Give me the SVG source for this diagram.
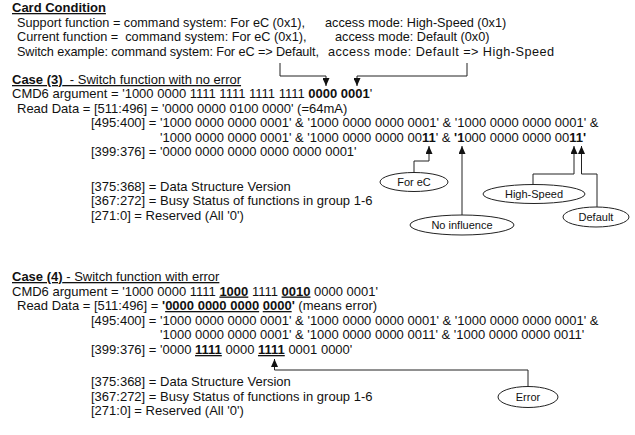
<svg xmlns="http://www.w3.org/2000/svg" width="635" height="435" viewBox="0 0 635 435">
<defs>
<marker id="ah" markerUnits="userSpaceOnUse" markerWidth="8" markerHeight="7" refX="8" refY="3.5" orient="auto" viewBox="0 0 8 7">
<path d="M0,0 L8,3.5 L0,7 Z" fill="#111"/>
</marker>
<style>
text{font-family:"Liberation Sans",Arial,sans-serif;font-size:13px;fill:#111}
.c{font-size:12.7px}
.b{font-weight:bold}
.u{text-decoration:underline}
.lbl{font-size:11px;text-anchor:middle}
.conn path{fill:none;stroke:#222;stroke-width:1}
.node ellipse{fill:#fff;stroke:#222;stroke-width:1}
</style>
</defs>
<rect width="635" height="435" fill="#fff"/>

<g id="card-condition">
<text x="12" y="12" class="b u">Card Condition</text>
<text x="17" y="26.5" class="c">Support function = command system: For eC (0x1),</text>
<text x="325" y="26.5" class="c">access mode: High-Speed (0x1)</text>
<text x="17" y="41" class="c" xml:space="preserve">Current function =  command system: For eC (0x1),</text>
<text x="335" y="41" class="c">access mode: Default (0x0)</text>
<text x="17" y="55.5" class="c" textLength="302" lengthAdjust="spacing">Switch example: command system: For eC =&gt; Default,</text>
<text x="328" y="55.5" class="c" textLength="226" lengthAdjust="spacing">access mode: Default =&gt; High-Speed</text>
</g>

<g id="case3">
<text x="12" y="84" class="u" xml:space="preserve"><tspan class="b">Case (3)</tspan>  - Switch function with no error</text>
<text x="12" y="98">CMD6 argument = '1000 0000 1111 1111 1111 1111 <tspan class="b">0000 0001</tspan>'</text>
<text x="17" y="112.5">Read Data = [511:496] = '0000 0000 0100 0000' (=64mA)</text>
<text x="91" y="127">[495:400] = '1000 0000 0000 0001' &amp; '1000 0000 0000 0001' &amp; '1000 0000 0000 0001' &amp;</text>
<text x="160" y="141.5">'1000 0000 0000 0001' &amp; '1000 0000 0000 00<tspan class="b">11</tspan>' &amp; <tspan class="b">'1</tspan>000 0000 0000 00<tspan class="b">11'</tspan></text>
<text x="91" y="156">[399:376] = '0000 0000 0000 0000 0000 0001'</text>
<text x="91" y="190.5">[375:368] = Data Structure Version</text>
<text x="91" y="205">[367:272] = Busy Status of functions in group 1-6</text>
<text x="91" y="219.5">[271:0] = Reserved (All '0')</text>
</g>

<g id="case4">
<text x="12" y="281" class="u"><tspan class="b">Case (4)</tspan> - Switch function with error</text>
<text x="12" y="295.5">CMD6 argument = '1000 0000 1111 <tspan class="b u">1000</tspan> 1111 <tspan class="b u">0010</tspan> 0000 0001'</text>
<text x="17" y="310">Read Data = [511:496] = <tspan class="b">'<tspan class="u">0000 0000 0000</tspan> <tspan class="u">0000</tspan>'</tspan> (means error)</text>
<text x="91" y="324.5">[495:400] = '1000 0000 0000 0001' &amp; '1000 0000 0000 0001' &amp; '1000 0000 0000 0001' &amp;</text>
<text x="160" y="339">'1000 0000 0000 0001' &amp; '1000 0000 0000 0011' &amp; '1000 0000 0000 0011'</text>
<text x="91" y="354">[399:376] = '0000 <tspan class="b u">1111</tspan> 0000 <tspan class="b u">1111</tspan> 0001 0000'</text>
<text x="91" y="386">[375:368] = Data Structure Version</text>
<text x="91" y="400.5">[367:272] = Busy Status of functions in group 1-6</text>
<text x="91" y="415">[271:0] = Reserved (All '0')</text>
</g>

<g id="connectors" class="conn">
<path d="M280,63 V76 H326 V86" marker-end="url(#ah)"/>
<path d="M467,63 V76 H357 V86" marker-end="url(#ah)"/>
<path d="M414,173 V161 H429 V146" marker-end="url(#ah)"/>
<path d="M462,215 V146" marker-end="url(#ah)"/>
<path d="M533,185 V174 H574 V146" marker-end="url(#ah)"/>
<path d="M597,207 V174 H581.5 V146" marker-end="url(#ah)"/>
<path d="M528,387 V370 H274.5 V359" marker-end="url(#ah)"/>
</g>

<g id="node-for-ec" class="node"><ellipse cx="414" cy="182" rx="34" ry="9.5"/><text x="414" y="186" class="lbl">For eC</text></g>
<g id="node-no-influence" class="node"><ellipse cx="462" cy="225" rx="52" ry="10"/><text x="462" y="229" class="lbl">No influence</text></g>
<g id="node-high-speed" class="node"><ellipse cx="534" cy="194" rx="51" ry="9.5"/><text x="534" y="198" class="lbl">High-Speed</text></g>
<g id="node-default" class="node"><ellipse cx="596" cy="217" rx="33" ry="10"/><text x="596" y="221" class="lbl">Default</text></g>
<g id="node-error" class="node"><ellipse cx="528" cy="397" rx="30" ry="10.5"/><text x="528" y="401" class="lbl">Error</text></g>
</svg>
